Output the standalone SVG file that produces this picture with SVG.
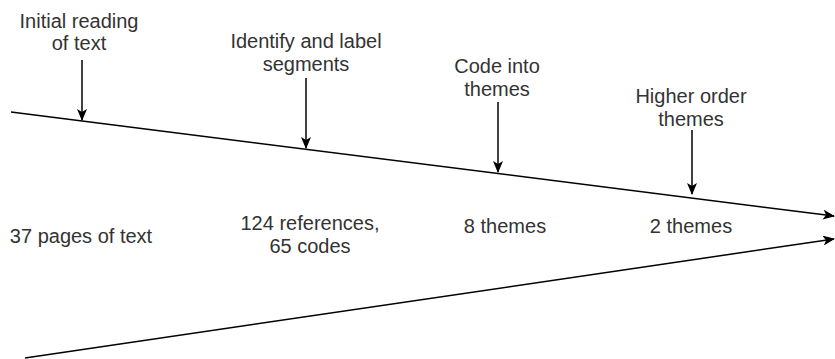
<svg xmlns="http://www.w3.org/2000/svg" width="835" height="359" viewBox="0 0 835 359">
<style>
text{font-family:"Liberation Sans",Arial,sans-serif;font-size:20px;fill:#333;text-anchor:middle}
.ln{stroke:#000;stroke-width:1.5;fill:none}
.ar{marker-end:url(#ah)}
</style>
<defs>
<marker id="ah" viewBox="0 0 12 10" refX="11" refY="5" markerWidth="12" markerHeight="10" orient="auto" markerUnits="userSpaceOnUse">
<path d="M0,0 L12,5 L0,10 L3,5 Z" fill="#000"/>
</marker>
</defs>
<rect width="835" height="359" fill="#fff"/>
<g id="connectors">
<line class="ln ar" x1="11" y1="112" x2="834" y2="216"/>
<line class="ln ar" x1="25" y1="358" x2="834" y2="239"/>
<line class="ln ar" x1="82" y1="60" x2="82" y2="120"/>
<line class="ln ar" x1="306" y1="78" x2="306" y2="148"/>
<line class="ln ar" x1="498" y1="102" x2="498" y2="172"/>
<line class="ln ar" x1="692" y1="130" x2="692" y2="194"/>
</g>
<g id="step1"><text x="79" y="28">Initial reading</text><text x="79" y="50">of text</text></g>
<g id="step2"><text x="306" y="48">Identify and label</text><text x="306" y="71">segments</text></g>
<g id="step3"><text x="497" y="73">Code into</text><text x="497" y="96">themes</text></g>
<g id="step4"><text x="691" y="103">Higher order</text><text x="691" y="126">themes</text></g>
<g id="count1"><text x="81" y="243">37 pages of text</text></g>
<g id="count2"><text x="310" y="230">124 references,</text><text x="310" y="253">65 codes</text></g>
<g id="count3"><text x="505" y="233">8 themes</text></g>
<g id="count4"><text x="691" y="233">2 themes</text></g>
</svg>
